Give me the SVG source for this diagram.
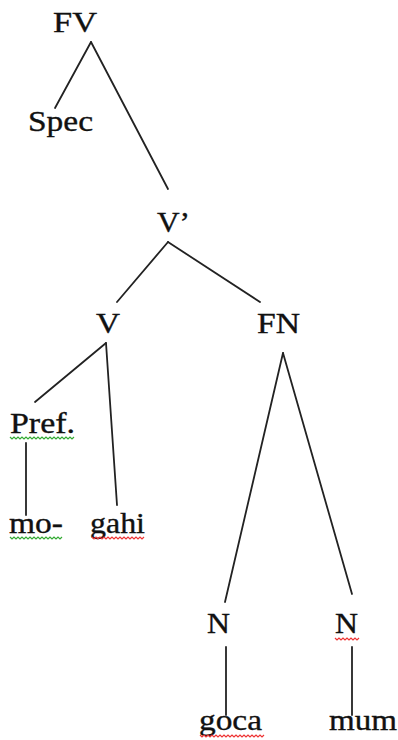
<svg xmlns="http://www.w3.org/2000/svg" width="398" height="740" viewBox="0 0 398 740">
<style>
text{font-family:"Liberation Serif","Times New Roman",serif;font-size:29px;fill:#111;stroke:#111;stroke-width:0.35;text-anchor:middle}
.e line{stroke:#222;stroke-width:1.8;stroke-linecap:round}
.sq{fill:none;stroke-width:1.2}
.g{stroke:#3a3}
.r{stroke:#e33}
</style>
<rect width="398" height="740" fill="#fff"/>
<g class="e" id="connectors">
<line x1="91" y1="42" x2="55" y2="108"/>
<line x1="91" y1="42" x2="168" y2="189"/>
<line x1="168" y1="242" x2="117" y2="302"/>
<line x1="168" y1="242" x2="260" y2="302"/>
<line x1="106" y1="343" x2="35" y2="402"/>
<line x1="106" y1="343" x2="117" y2="505"/>
<line x1="26" y1="443" x2="26" y2="515"/>
<line x1="283" y1="353" x2="225" y2="602"/>
<line x1="283" y1="353" x2="352" y2="594"/>
<line x1="226" y1="647" x2="226" y2="715"/>
<line x1="352" y1="647" x2="352" y2="715"/>
</g>
<g id="FV"><text x="75" y="32" textLength="44" lengthAdjust="spacingAndGlyphs">FV</text></g>
<g id="Spec"><text x="60.5" y="131" textLength="65" lengthAdjust="spacingAndGlyphs">Spec</text></g>
<g id="Vbar"><text x="173.5" y="232" textLength="33" lengthAdjust="spacingAndGlyphs">V’</text></g>
<g id="V"><text x="108" y="333" textLength="24" lengthAdjust="spacingAndGlyphs">V</text></g>
<g id="FN"><text x="278.5" y="333" textLength="43" lengthAdjust="spacingAndGlyphs">FN</text></g>
<g id="Pref"><text x="42.5" y="433" textLength="65" lengthAdjust="spacingAndGlyphs">Pref.</text>
<path class="sq g" d="M10 437 l2 2 l2 -2 l2 2 l2 -2 l2 2 l2 -2 l2 2 l2 -2 l2 2 l2 -2 l2 2 l2 -2 l2 2 l2 -2 l2 2 l2 -2 l2 2 l2 -2 l2 2 l2 -2 l2 2 l2 -2 l2 2 l2 -2 l2 2 l2 -2 l2 2 l2 -2 l2 2 l2 -2 l2 2 l2 -2"/></g>
<g id="mo"><text x="36" y="533" textLength="54" lengthAdjust="spacingAndGlyphs">mo-</text>
<path class="sq g" d="M10 537 l2 2 l2 -2 l2 2 l2 -2 l2 2 l2 -2 l2 2 l2 -2 l2 2 l2 -2 l2 2 l2 -2 l2 2 l2 -2 l2 2 l2 -2 l2 2 l2 -2 l2 2 l2 -2 l2 2 l2 -2 l2 2 l2 -2 l2 2 l2 -2"/></g>
<g id="gahi"><text x="117.5" y="533" textLength="55" lengthAdjust="spacingAndGlyphs">gahi</text>
<path class="sq r" d="M92 537 l2 2 l2 -2 l2 2 l2 -2 l2 2 l2 -2 l2 2 l2 -2 l2 2 l2 -2 l2 2 l2 -2 l2 2 l2 -2 l2 2 l2 -2 l2 2 l2 -2 l2 2 l2 -2 l2 2 l2 -2 l2 2 l2 -2 l2 2 l2 -2"/></g>
<g id="N1"><text x="218.5" y="633" textLength="23" lengthAdjust="spacingAndGlyphs">N</text></g>
<g id="N2"><text x="346.5" y="633" textLength="23" lengthAdjust="spacingAndGlyphs">N</text>
<path class="sq r" d="M335 638 l2 2 l2 -2 l2 2 l2 -2 l2 2 l2 -2 l2 2 l2 -2 l2 2 l2 -2 l2 2 l2 -2"/></g>
<g id="goca"><text x="230.5" y="730" textLength="63" lengthAdjust="spacingAndGlyphs">goca</text>
<path class="sq r" d="M200 735 l2 2 l2 -2 l2 2 l2 -2 l2 2 l2 -2 l2 2 l2 -2 l2 2 l2 -2 l2 2 l2 -2 l2 2 l2 -2 l2 2 l2 -2 l2 2 l2 -2 l2 2 l2 -2 l2 2 l2 -2 l2 2 l2 -2 l2 2 l2 -2 l2 2 l2 -2 l2 2 l2 -2 l2 2 l2 -2"/></g>
<g id="mum"><text x="363" y="730" textLength="68" lengthAdjust="spacingAndGlyphs">mum</text></g>
</svg>
